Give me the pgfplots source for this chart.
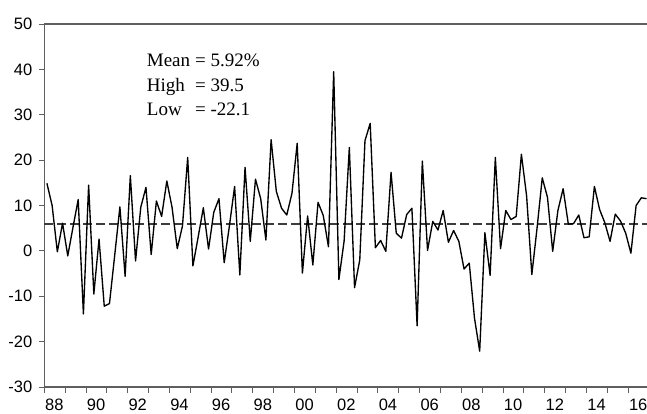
\documentclass[border=0pt]{standalone}
\usepackage{fontspec}
\setmainfont{Liberation Serif}
\newfontfamily\tickfont{Liberation Sans}
\usepackage{pgfplots}
\pgfplotsset{compat=1.18}
\usepackage{pgfplotstable}
\definecolor{axisgray}{RGB}{95,95,95}
\definecolor{meangray}{RGB}{60,60,60}

\pgfplotstableread{
x v
1988.125 14.9
1988.375 10.0
1988.625 -0.2
1988.875 6.1
1989.125 -1.1
1989.375 5.2
1989.625 11.3
1989.875 -13.9
1990.125 14.5
1990.375 -9.5
1990.625 2.6
1990.875 -12.2
1991.125 -11.6
1991.375 -1.0
1991.625 9.7
1991.875 -5.6
1992.125 16.6
1992.375 -2.2
1992.625 9.6
1992.875 14.0
1993.125 -0.8
1993.375 11.0
1993.625 7.6
1993.875 15.4
1994.125 9.6
1994.375 0.5
1994.625 5.5
1994.875 20.6
1995.125 -3.3
1995.375 3.0
1995.625 9.5
1995.875 0.4
1996.125 8.5
1996.375 11.5
1996.625 -2.6
1996.875 5.5
1997.125 14.2
1997.375 -5.3
1997.625 18.4
1997.875 2.1
1998.125 15.8
1998.375 11.5
1998.625 2.4
1998.875 24.5
1999.125 13.1
1999.375 9.4
1999.625 7.9
1999.875 12.7
2000.125 23.7
2000.375 -4.9
2000.625 7.7
2000.875 -3.1
2001.125 10.7
2001.375 7.8
2001.625 0.9
2001.875 39.5
2002.125 -6.3
2002.375 2.2
2002.625 22.8
2002.875 -8.1
2003.125 -2.0
2003.375 24.3
2003.625 28.1
2003.875 0.7
2004.125 2.3
2004.375 -0.1
2004.625 17.3
2004.875 3.9
2005.125 2.8
2005.375 8.0
2005.625 9.4
2005.875 -16.5
2006.125 19.8
2006.375 0.1
2006.625 6.5
2006.875 4.6
2007.125 8.9
2007.375 1.9
2007.625 4.5
2007.875 2.1
2008.125 -4.0
2008.375 -2.7
2008.625 -14.8
2008.875 -22.1
2009.125 4.0
2009.375 -5.4
2009.625 20.6
2009.875 0.5
2010.125 8.9
2010.375 6.9
2010.625 7.6
2010.875 21.3
2011.125 12.1
2011.375 -5.2
2011.625 5.0
2011.875 16.1
2012.125 11.8
2012.375 -0.1
2012.625 8.9
2012.875 13.7
2013.125 5.9
2013.375 6.0
2013.625 7.9
2013.875 2.9
2014.125 3.1
2014.375 14.2
2014.625 9.1
2014.875 6.2
2015.125 2.1
2015.375 8.1
2015.625 6.6
2015.875 3.9
2016.125 -0.5
2016.375 10.0
2016.625 11.7
2016.875 11.5
}\datatable

\begin{document}
\begin{tikzpicture}
\begin{axis}[
  name=ax, at={(0pt,0pt)}, anchor=south west,
  scale only axis, width=602.7pt, height=363pt,
  xmin=1988, xmax=2016.897, ymin=-30, ymax=50,
  axis x line*=bottom, axis y line*=left,
  axis line style={draw=axisgray, line width=1.2pt, -},
  xtick={1988,1989,...,2016},
  xticklabels={88,,90,,92,,94,,96,,98,,00,,02,,04,,06,,08,,10,,12,,14,,16},
  xticklabel style={xshift=10pt, yshift=-1.5pt, text height=11.8pt, text depth=0pt, inner sep=4pt},
  ytick={-30,-20,...,50},
  yticklabels={-30,-20,-10,0,10,20,30,40,50},
  yticklabel style={xshift=-3pt},
  tick align=outside, major tick length=5.5pt,
  tick style={draw=axisgray, line width=1pt},
  ticklabel style={font=\tickfont\fontsize{16.5}{16.5}\selectfont, text=black},
  clip=false,
]
\draw[axisgray, line width=1.2pt] (rel axis cs:0,1) -- (rel axis cs:1,1);
\addplot[meangray, line width=1.3pt, dash pattern=on 9pt off 4pt] coordinates {(1988,5.92) (2016.897,5.92)};
\addplot[black, line width=1.35pt, line join=round] table[x=x, y=v] {\datatable};
\end{axis}
\begin{scope}[font=\fontsize{19}{24}\selectfont]
\node[anchor=base west, inner sep=0pt] at (102.4pt,320.3pt) {Mean};
\node[anchor=base west, inner sep=0pt] at (150.7pt,320.3pt) {= 5.92\%};
\node[anchor=base west, inner sep=0pt] at (102.4pt,295.8pt) {High};
\node[anchor=base west, inner sep=0pt] at (150.7pt,295.8pt) {= 39.5};
\node[anchor=base west, inner sep=0pt] at (102.4pt,271.3pt) {Low};
\node[anchor=base west, inner sep=0pt] at (150.7pt,271.3pt) {= -22.1};
\end{scope}
\pgfresetboundingbox
\useasboundingbox (-44.3pt,-26pt) rectangle (602.7pt,387pt);
\end{tikzpicture}
\end{document}
